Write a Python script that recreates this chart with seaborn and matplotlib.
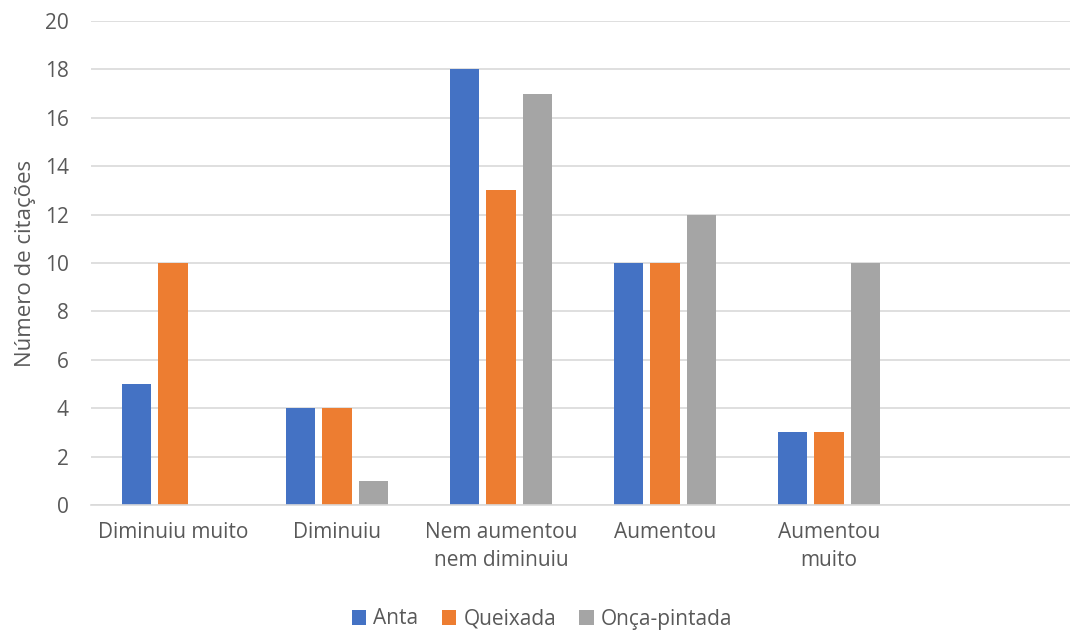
import matplotlib
matplotlib.use("Agg")
import matplotlib.pyplot as plt
import seaborn as sns
import pandas as pd

categories = ["Diminuiu muito", "Diminuiu", "Nem aumentou\nnem diminuiu", "Aumentou", "Aumentou\nmuito"]
anta = [5, 4, 18, 10, 3]
queixada = [10, 4, 13, 10, 3]
onca = [0, 1, 17, 12, 10]
series_names = ["Anta", "Queixada", "Onça-pintada"]
colors = ["#4472C4", "#ED7D31", "#A5A5A5"]
y_ticks = list(range(0, 21, 2))

rows = []
for name, vals in zip(series_names, [anta, queixada, onca]):
    for cat, v in zip(categories, vals):
        rows.append({"categoria": cat, "serie": name, "valor": v})
df = pd.DataFrame(rows)

sns.set_theme(style="white")
plt.rcParams["font.family"] = ["Open Sans", "DejaVu Sans"]
text_color = "#595959"
grid_color = "#D9D9D9"

fig = plt.figure(figsize=(10.7, 6.32), dpi=100)
ax = fig.add_axes([91 / 1070, (632 - 505) / 632, 984 / 1070, (505 - 21) / 632])

sns.barplot(data=df, x="categoria", y="valor", hue="serie", order=categories,
            hue_order=series_names, palette=colors, width=0.668, gap=0.2,
            saturation=1, linewidth=0, ax=ax)

ax.set_xlim(-0.5, 5.5)
ax.set_ylim(0, 20)
ax.set_yticks(y_ticks)
ax.yaxis.grid(True, color=grid_color, linewidth=1.2)
ax.set_axisbelow(True)
for side in ["top", "right", "left"]:
    ax.spines[side].set_visible(False)
ax.spines["bottom"].set_color(grid_color)
ax.spines["bottom"].set_linewidth(1.2)
ax.tick_params(axis="both", length=0, labelsize=15, colors=text_color)
ax.tick_params(axis="x", pad=12)
ax.tick_params(axis="y", pad=16)
for lbl in ax.get_xticklabels():
    lbl.set_linespacing(1.45)
ax.set_xlabel("")
ax.set_ylabel("Número de citações", fontsize=16, color=text_color, labelpad=6)

ax.legend(loc="center", bbox_to_anchor=(542 / 1070, 13 / 632),
          bbox_transform=fig.transFigure, ncol=3, frameon=False, fontsize=15,
          handlelength=0.7, handleheight=0.7, handletextpad=0.35, columnspacing=1.1,
          labelcolor=text_color)

fig.savefig("out.png", dpi=100)
